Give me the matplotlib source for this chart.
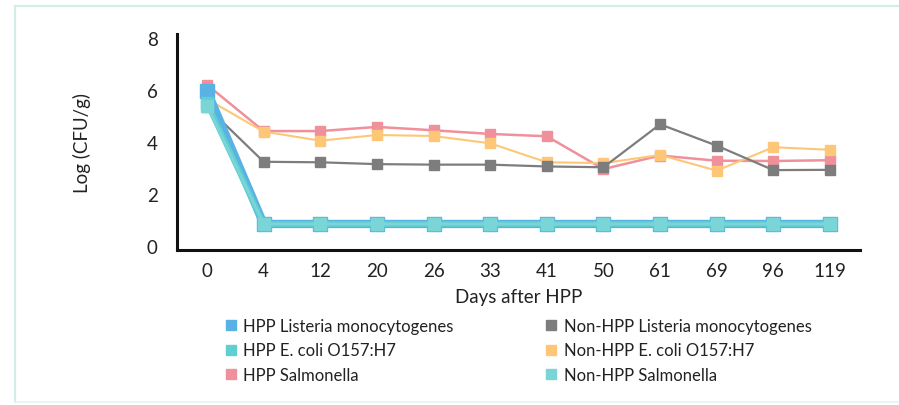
import matplotlib
matplotlib.use("Agg")
import matplotlib.pyplot as plt
from matplotlib.lines import Line2D

plt.rcParams['font.family'] = ['Lato', 'DejaVu Sans']

days = ["0", "4", "12", "20", "26", "33", "41", "50", "61", "69", "96", "119"]

hpp_listeria = [5.97, 0.85, 0.85, 0.85, 0.85, 0.85, 0.85, 0.85, 0.85, 0.85, 0.85, 0.85]
hpp_ecoli = [5.5, 0.85, 0.85, 0.85, 0.85, 0.85, 0.85, 0.85, 0.85, 0.85, 0.85, 0.85]
hpp_salmonella = [6.2, 4.42, 4.42, 4.58, 4.45, 4.31, 4.22, 2.96, 3.48, 3.28, 3.27, 3.3]
non_listeria = [5.35, 3.24, 3.22, 3.15, 3.13, 3.13, 3.06, 3.03, 4.68, 3.86, 2.92, 2.93]
non_ecoli = [5.65, 4.4, 4.05, 4.27, 4.23, 3.95, 3.22, 3.19, 3.5, 2.9, 3.8, 3.7]
non_salmonella = [5.4, 0.85, 0.85, 0.85, 0.85, 0.85, 0.85, 0.85, 0.85, 0.85, 0.85, 0.85]

labels_col1 = ["HPP Listeria monocytogenes", "HPP E. coli O157:H7", "HPP Salmonella"]
labels_col2 = ["Non-HPP Listeria monocytogenes", "Non-HPP E. coli O157:H7", "Non-HPP Salmonella"]

c_blue = "#5ab2e4"
c_teal = "#5fcfd2"
c_pink = "#f0909b"
c_gray = "#7d7d7d"
c_orange = "#fdc777"
c_teal2 = "#79d5d6"

W, H = 899, 406
fig = plt.figure(figsize=(W / 100, H / 100), dpi=100)
fig.patch.set_facecolor("white")

# light frame
fig.add_artist(Line2D([15 / W, 15 / W], [1 - 7 / H, 1 - 403 / H], transform=fig.transFigure,
                      color="#d3eeea", lw=1.6))
fig.add_artist(Line2D([15 / W, 1.0], [1 - 7 / H, 1 - 7 / H], transform=fig.transFigure,
                      color="#d3eeea", lw=1.6))
fig.add_artist(Line2D([15 / W, 1.0], [1 - 403 / H, 1 - 403 / H], transform=fig.transFigure,
                      color="#e4f4f2", lw=1.2))

ax = fig.add_axes([177 / W, 1 - 251 / H, (860 - 177) / W, (251 - 35) / H])
x = list(range(len(days)))

ms = 7.5
ax.plot(x, non_ecoli, color=c_orange, lw=1.5, marker="s", ms=ms, zorder=3)
ax.plot(x, hpp_salmonella, color=c_pink, lw=1.8, marker="s", ms=ms, zorder=2)
ax.plot(x, non_listeria, color=c_gray, lw=1.6, marker="s", ms=ms, zorder=4)
ax.plot(x, hpp_listeria, color=c_blue, lw=6.0, marker="s", ms=9.5, zorder=5)
ax.plot(x, hpp_ecoli, color=c_teal, lw=4.0, marker="s", ms=9.0, zorder=6)
ax.plot(x, non_salmonella, color=c_teal2, lw=2.0, marker="s", ms=8, zorder=6)

ax.set_xlim(-0.53, 11.53)
ax.set_ylim(-0.15, 8.15)
ax.set_yticks([0, 2, 4, 6, 8])
ax.set_xticks(x)
ax.set_xticklabels(days)
for s in ["top", "right"]:
    ax.spines[s].set_visible(False)
for s in ["left", "bottom"]:
    ax.spines[s].set_linewidth(2.2)
    ax.spines[s].set_color("#111111")
ax.tick_params(axis="both", length=0, labelsize=13.5, colors="#222222")
ax.tick_params(axis="y", pad=14)
ax.tick_params(axis="x", pad=9)
ax.set_ylabel("Log (CFU/g)", fontsize=13.5, color="#222222", labelpad=40)
ax.set_xlabel("Days after HPP", fontsize=13.5, color="#222222", labelpad=6)

h1 = [Line2D([], [], ls="none", marker="s", ms=7, color=c) for c in (c_blue, c_teal, c_pink)]
h2 = [Line2D([], [], ls="none", marker="s", ms=7, color=c) for c in (c_gray, c_orange, c_teal2)]
common = dict(loc="upper left", frameon=False, fontsize=12, handlelength=0.6, handletextpad=0.45,
              labelspacing=0.5, borderpad=0, borderaxespad=0, labelcolor="#222222")
leg1 = fig.legend(h1, labels_col1, bbox_to_anchor=(226 / W, 1 - 319 / H), **common)
leg2 = fig.legend(h2, labels_col2, bbox_to_anchor=(546 / W, 1 - 319 / H), **common)

fig.savefig("out.png", dpi=100)
